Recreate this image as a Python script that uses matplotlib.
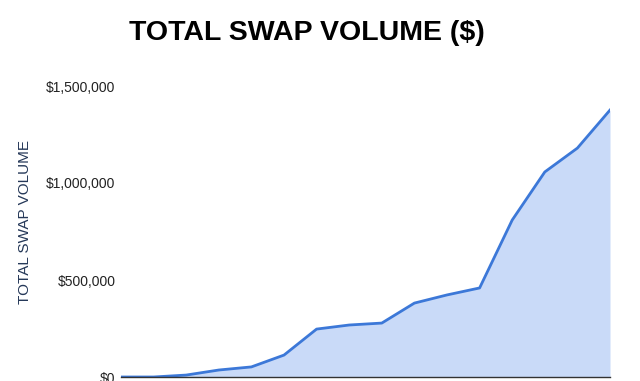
import matplotlib
matplotlib.use('Agg')
import matplotlib.pyplot as plt
from matplotlib.ticker import FuncFormatter

# cumulative swap volume, one point per period
periods = list(range(16))
volume = [0, 0, 10000, 36000, 52000, 113000, 247000, 268000, 278000,
          381000, 423000, 459000, 809000, 1057000, 1180000, 1376000]
y_ticks = [0, 500000, 1000000, 1500000]

plt.rcParams['font.family'] = ['Liberation Sans', 'DejaVu Sans']

fig = plt.figure(figsize=(6.4, 3.81), dpi=100, facecolor='white')
ax = fig.add_axes([121 / 640, 4 / 381, 489 / 640, 291 / 381])

ax.fill_between(periods, volume, 0, color='#c9daf8', linewidth=0, zorder=1)
ax.plot(periods, volume, color='#3c78d8', linewidth=2, zorder=2)

ax.set_xlim(periods[0], periods[-1])
ax.set_ylim(0, 1500000)
ax.set_yticks(y_ticks)
ax.yaxis.set_major_formatter(FuncFormatter(lambda v, _: f'${v:,.0f}'))
ax.tick_params(axis='y', length=0, pad=4, labelsize=10, labelcolor='#222222')
ax.set_xticks([])

for s in ['top', 'right', 'left']:
    ax.spines[s].set_visible(False)
ax.spines['bottom'].set_color('#333333')
ax.spines['bottom'].set_linewidth(1)
ax.spines['bottom'].set_zorder(3)

fig.text(307 / 640, 1 - 33 / 381, 'TOTAL SWAP VOLUME ($)', ha='center', va='center',
         fontsize=20.5, fontweight='heavy', color='black')
fig.text(25 / 640, 1 - 222 / 381, 'TOTAL SWAP VOLUME', rotation=90, ha='center',
         va='center', fontsize=11, color='#253858')

fig.savefig('out.png', dpi=100, facecolor='white')
